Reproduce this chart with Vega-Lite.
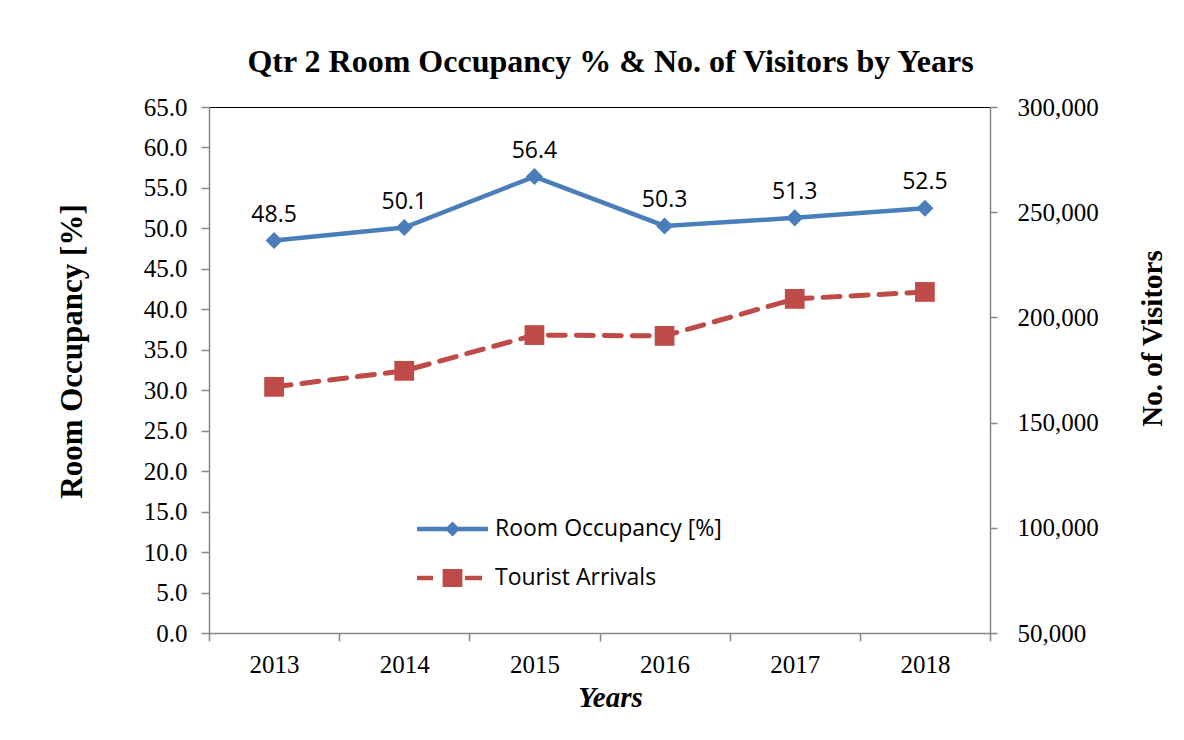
{
  "$schema": "https://vega.github.io/schema/vega-lite/v6.json",
  "width": 781,
  "height": 526,
  "autosize": {"type": "none"},
  "padding": {"left": 209, "top": 107, "right": 194, "bottom": 107},
  "background": "white",
  "title": {
    "text": "Qtr 2 Room Occupancy % & No. of Visitors by Years",
    "font": "Liberation Serif",
    "fontSize": 32,
    "fontWeight": "bold",
    "color": "#000000",
    "anchor": "middle",
    "frame": "group",
    "dx": 11,
    "offset": 16
  },
  "config": {
    "view": {"stroke": "#000000", "strokeWidth": 1},
    "axis": {
      "grid": false,
      "labelFont": "Liberation Serif",
      "labelFontSize": 25,
      "labelColor": "#000000",
      "titleFont": "Liberation Serif",
      "titleFontWeight": "bold",
      "titleColor": "#000000",
      "domainColor": "#868686",
      "domainWidth": 1.5,
      "tickColor": "#868686",
      "tickWidth": 1.5
    }
  },
  "datasets": {
    "occ": [
      {"year": "2013", "series": "Room Occupancy [%]", "value": 48.5},
      {"year": "2014", "series": "Room Occupancy [%]", "value": 50.1},
      {"year": "2015", "series": "Room Occupancy [%]", "value": 56.4},
      {"year": "2016", "series": "Room Occupancy [%]", "value": 50.3},
      {"year": "2017", "series": "Room Occupancy [%]", "value": 51.3},
      {"year": "2018", "series": "Room Occupancy [%]", "value": 52.5}
    ],
    "tour": [
      {"year": "2013", "series": "Tourist Arrivals", "visitors": 167000},
      {"year": "2014", "series": "Tourist Arrivals", "visitors": 174600},
      {"year": "2015", "series": "Tourist Arrivals", "visitors": 191600},
      {"year": "2016", "series": "Tourist Arrivals", "visitors": 191200},
      {"year": "2017", "series": "Tourist Arrivals", "visitors": 208800},
      {"year": "2018", "series": "Tourist Arrivals", "visitors": 212100}
    ]
  },
  "layer": [
    {
      "data": {"name": "occ"},
      "layer": [
        {
          "mark": {"type": "line", "strokeWidth": 4.5, "point": {"shape": "diamond", "size": 290, "filled": true}},
          "encoding": {
            "x": {
              "field": "year", "type": "ordinal",
              "scale": {"type": "band", "paddingInner": 0, "paddingOuter": 0},
              "axis": {
                "title": "Years",
                "titleFontSize": 29,
                "titleFontStyle": "italic",
                "titleX": 401,
                "titleY": 64,
                "titleBaseline": "middle",
                "labelAngle": 0,
                "labelPadding": 11,
                "tickBand": "extent",
                "tickSize": 8
              }
            },
            "y": {
              "field": "value", "type": "quantitative",
              "scale": {"domain": [0, 65], "nice": false, "zero": false},
              "axis": {
                "title": "Room Occupancy [%]",
                "orient": "left",
                "values": [0, 5, 10, 15, 20, 25, 30, 35, 40, 45, 50, 55, 60, 65],
                "format": ".1f",
                "titleFontSize": 31,
                "titleAngle": -90,
                "titleX": -137,
                "titleY": 244,
                "titleAlign": "center",
                "titleBaseline": "middle",
                "labelPadding": 14,
                "tickSize": 8
              }
            },
            "color": {
              "field": "series", "type": "nominal",
              "scale": {"domain": ["Room Occupancy [%]", "Tourist Arrivals"], "range": ["#4A7EBB", "#BE4B48"]},
              "legend": {
                "orient": "none",
                "legendX": 225.5,
                "legendY": 404,
                "title": null,
                "direction": "vertical",
                "padding": 0,
                "symbolSize": 1296,
                "symbolStrokeWidth": 0,
                "labelFont": "Open Sans",
                "labelFontSize": 23,
                "labelColor": "#000000",
                "labelLimit": 400,
                "labelOffset": 24.5,
                "rowPadding": 19,
                "encode": {
                  "symbols": {
                    "update": {
                      "shape": {"signal": "datum.value === 'Tourist Arrivals' ? 'M-1.97,-0.13H-1.08V0.13H-1.97Z M-0.55,-0.5H0.55V0.5H-0.55Z M0.69,-0.13H1.64V0.13H0.69Z' : 'M-1.97,-0.12H1.97V0.12H-1.97Z M0,-0.42L0.42,0L0,0.42L-0.42,0Z'"},
                      "fill": {"signal": "scale('color', datum.value)"},
                      "fillOpacity": {"value": 1},
                      "opacity": {"value": 1},
                      "strokeWidth": {"value": 0}
                    }
                  }
                }
              }
            }
          }
        },
        {
          "mark": {"type": "text", "dy": -26, "font": "Open Sans", "fontSize": 23, "color": "#000000"},
          "encoding": {
            "x": {"field": "year", "type": "ordinal", "scale": {"type": "band", "paddingInner": 0, "paddingOuter": 0}},
            "y": {"field": "value", "type": "quantitative"},
            "text": {"field": "value", "type": "quantitative", "format": ".1f"}
          }
        }
      ]
    },
    {
      "data": {"name": "tour"},
      "mark": {"type": "line", "strokeWidth": 5, "strokeDash": [17, 11], "strokeCap": "round", "point": {"shape": "square", "size": 390, "filled": true}},
      "encoding": {
        "x": {"field": "year", "type": "ordinal", "scale": {"type": "band", "paddingInner": 0, "paddingOuter": 0}},
        "y": {
          "field": "visitors", "type": "quantitative",
          "scale": {"domain": [50000, 300000], "nice": false, "zero": false},
          "axis": {
            "title": "No. of Visitors",
            "orient": "right",
            "values": [50000, 100000, 150000, 200000, 250000, 300000],
            "format": ",.0f",
            "titleFontSize": 29,
            "titleAngle": -90,
            "titleX": 162,
            "titleY": 231,
            "titleAlign": "center",
            "titleBaseline": "middle",
            "labelPadding": 20,
            "tickSize": 7
          }
        },
        "color": {"field": "series", "type": "nominal"}
      }
    }
  ],
  "resolve": {"scale": {"y": "independent"}, "axis": {"y": "independent"}}
}
